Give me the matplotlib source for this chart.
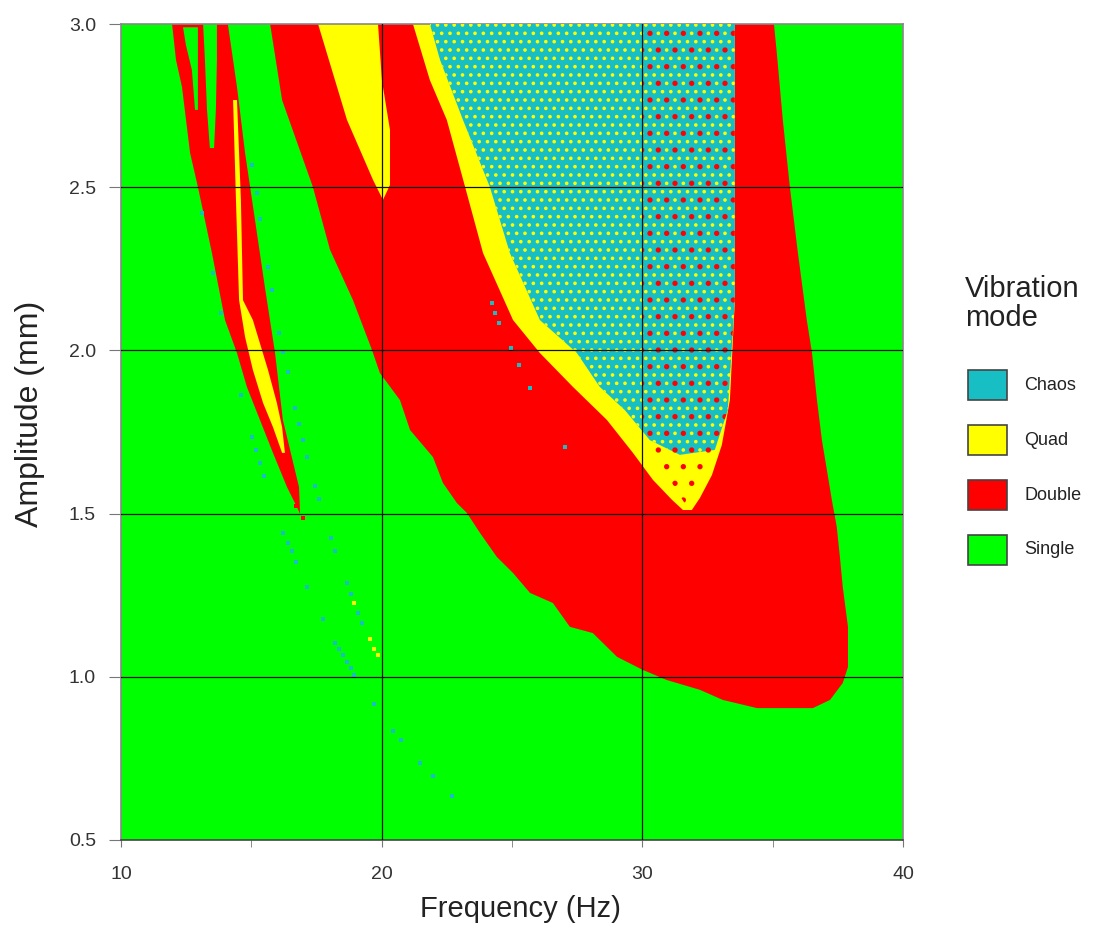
import matplotlib
matplotlib.use("Agg")
import matplotlib.pyplot as plt
from matplotlib.patches import Rectangle

plt.rcParams['font.family'] = ['Liberation Sans', 'DejaVu Sans']
plt.rcParams['hatch.linewidth'] = 1.4

# colours of the vibration modes
SINGLE = '#00ff00'
DOUBLE = '#ff0000'
QUAD = '#ffff00'
CHAOS = '#17bec4'

modes = ['Chaos', 'Quad', 'Double', 'Single']
mode_colors = [CHAOS, QUAD, DOUBLE, SINGLE]

# region outlines: frequency (Hz), amplitude (mm)
# big double-period region
double_f = [15.72, 16.18, 17.36, 18.02, 18.90, 19.63, 19.93, 20.70, 21.09, 21.97,
            22.35, 22.89, 23.27, 23.77, 24.42, 25.04, 25.69, 26.57, 27.22, 28.10,
            29.03, 30.02, 30.94, 32.21, 33.09, 34.40, 36.54, 37.20, 37.69, 37.89,
            37.89, 37.69, 37.58, 37.46, 37.27, 37.08, 36.89, 36.70, 36.51, 36.31,
            35.97, 35.66, 35.39, 35.16, 35.05]
double_a = [3.000, 2.767, 2.501, 2.308, 2.154, 2.001, 1.931, 1.848, 1.756, 1.673,
            1.594, 1.532, 1.502, 1.441, 1.367, 1.318, 1.257, 1.226, 1.153, 1.134,
            1.061, 1.021, 0.990, 0.960, 0.929, 0.904, 0.904, 0.929, 0.981, 1.030,
            1.153, 1.275, 1.367, 1.459, 1.542, 1.634, 1.725, 1.848, 1.992, 2.093,
            2.298, 2.501, 2.706, 2.911, 3.000]

# thin double sliver on the left
sliver_f = [11.96, 12.11, 12.34, 12.65, 12.95, 13.49, 13.99, 14.45, 14.83, 15.33,
            15.83, 16.37, 16.75, 16.87, 16.83, 16.21, 15.91, 15.52, 15.14, 14.76,
            14.45, 14.10]
sliver_a = [3.000, 2.890, 2.807, 2.605, 2.501, 2.298, 2.093, 1.992, 1.888, 1.787,
            1.686, 1.581, 1.520, 1.499, 1.581, 1.787, 1.992, 2.194, 2.400, 2.605,
            2.807, 3.000]

# single-mode gaps inside the sliver
gap_f = [13.15, 13.68, 13.68, 13.64, 13.57, 13.41, 13.30, 13.22]
gap_a = [3.000, 3.000, 2.890, 2.737, 2.620, 2.620, 2.737, 2.890]
hole_f = [12.38, 12.95, 12.95, 12.84, 12.72, 12.49]
hole_a = [2.990, 2.990, 2.737, 2.737, 2.859, 2.936]

# quad streak inside the sliver
streak_f = [14.30, 14.45, 14.60, 14.68, 15.06, 15.64, 15.98, 16.18, 16.29, 16.18,
            15.83, 15.45, 15.06, 14.76, 14.53, 14.41]
streak_a = [2.767, 2.767, 2.461, 2.154, 2.093, 1.940, 1.839, 1.765, 1.686, 1.686,
            1.765, 1.839, 1.940, 2.041, 2.154, 2.461]

# quad wedge near 20 Hz
wedge_f = [17.56, 18.67, 19.67, 20.05, 20.32, 20.32, 20.01, 19.86]
wedge_a = [3.000, 2.706, 2.522, 2.461, 2.507, 2.675, 2.828, 3.000]

# quad band along the chaos region
band_f = [21.20, 21.85, 22.50, 23.20, 23.89, 25.04, 26.07, 27.34, 28.64, 29.64,
          30.41, 31.14, 31.56, 31.90, 32.21, 32.67, 33.05, 33.36, 33.55, 33.55]
band_a = [3.000, 2.828, 2.706, 2.501, 2.298, 2.093, 1.992, 1.888, 1.787, 1.686,
          1.603, 1.542, 1.511, 1.511, 1.548, 1.618, 1.710, 1.848, 2.154, 3.000]

# chaos region
chaos_f = [21.85, 22.24, 23.12, 24.15, 24.92, 26.07, 27.49, 28.37, 29.33, 30.29,
           31.44, 32.78, 33.28, 33.55, 33.55]
chaos_a = [3.000, 2.890, 2.706, 2.501, 2.298, 2.093, 1.992, 1.888, 1.817, 1.725,
           1.680, 1.695, 1.817, 2.154, 3.000]

# mixed (speckled) right edge of the chaos region
mixed_f = [30.02, 33.55, 33.55, 33.28, 32.78, 32.21, 31.64, 30.68, 30.02]
mixed_a = [3.000, 3.000, 2.154, 1.817, 1.695, 1.573, 1.530, 1.650, 1.756]

# isolated chaos / quad / double points
chaos_pt_f = [16.21, 16.41, 16.56, 16.71, 17.13, 17.75, 18.06, 18.21, 18.67, 18.82,
              19.09, 19.24, 18.21, 18.36, 18.52, 18.67, 18.82, 18.94, 19.70, 20.43,
              20.74, 21.47, 21.97, 22.70, 24.23, 24.35, 24.50, 24.96, 25.27, 25.69,
              27.03, 16.98, 17.13, 17.44, 17.59, 13.11, 13.53, 13.84, 15.02, 15.22,
              15.33, 15.64, 15.79, 16.06, 16.21, 16.41, 16.67, 16.83, 14.60, 15.02,
              15.18, 15.33, 15.49]
chaos_pt_a = [1.440, 1.410, 1.385, 1.352, 1.275, 1.177, 1.425, 1.385, 1.287, 1.254,
              1.196, 1.165, 1.104, 1.085, 1.067, 1.045, 1.027, 1.006, 0.917, 0.834,
              0.806, 0.736, 0.696, 0.635, 2.145, 2.115, 2.084, 2.007, 1.955, 1.885,
              1.704, 1.725, 1.673, 1.585, 1.545, 2.421, 2.237, 2.115, 2.568, 2.482,
              2.403, 2.256, 2.185, 2.053, 1.995, 1.934, 1.824, 1.775, 1.863, 1.735,
              1.695, 1.655, 1.615]
quad_pt_f = [18.94, 19.55, 19.70, 19.86]
quad_pt_a = [1.226, 1.116, 1.085, 1.067]
double_pt_f = [16.71, 16.98]
double_pt_a = [1.523, 1.486]

fig = plt.figure(figsize=(10.94, 9.38), dpi=100)
ax = fig.add_axes([0.1106, 0.1045, 0.7148, 0.8699])
ax.set_facecolor(SINGLE)

ax.fill(double_f, double_a, color=DOUBLE, lw=0, zorder=1)
ax.fill(sliver_f, sliver_a, color=DOUBLE, lw=0, zorder=1)
ax.fill(gap_f, gap_a, color=SINGLE, lw=0, zorder=2)
ax.fill(hole_f, hole_a, color=SINGLE, lw=0, zorder=2)
ax.fill(streak_f, streak_a, color=QUAD, lw=0, zorder=2)
ax.fill(wedge_f, wedge_a, color=QUAD, lw=0, zorder=2)
ax.fill(band_f, band_a, color=QUAD, lw=0, zorder=2)
ax.fill(chaos_f, chaos_a, color=CHAOS, lw=0, zorder=3)
# speckle of other modes inside the chaotic area
ax.fill(chaos_f, chaos_a, facecolor='none', edgecolor=QUAD, hatch='..', lw=0, zorder=4)
ax.fill(mixed_f, mixed_a, facecolor='none', edgecolor=DOUBLE, hatch='.', lw=0, zorder=4)

ax.scatter(chaos_pt_f, chaos_pt_a, s=7, marker='s', color=CHAOS, lw=0, zorder=5)
ax.scatter(quad_pt_f, quad_pt_a, s=7, marker='s', color=QUAD, lw=0, zorder=5)
ax.scatter(double_pt_f, double_pt_a, s=7, marker='s', color=DOUBLE, lw=0, zorder=5)

ax.set_xlim(10, 40)
ax.set_ylim(0.5, 3.0)
ax.set_xticks([10, 20, 30, 40])
ax.set_xticks([15, 25, 35], minor=True)
ax.set_yticks([0.5, 1.0, 1.5, 2.0, 2.5, 3.0])
ax.set_yticklabels(['0.5', '1.0', '1.5', '2.0', '2.5', '3.0'])

# grid lines on top of the map
for f in [20, 30]:
    ax.axvline(f, color='#111111', lw=0.9, zorder=6)
for a in [1.0, 1.5, 2.0, 2.5]:
    ax.axhline(a, color='#111111', lw=0.9, zorder=6)

ax.tick_params(axis='both', which='both', direction='out', colors='#777777',
               labelcolor='#333333', labelsize=14)
ax.tick_params(axis='x', which='both', length=5, pad=14)
ax.tick_params(axis='y', which='major', length=9, pad=9)
for s in ax.spines.values():
    s.set_color('#888888')
    s.set_linewidth(1.2)
ax.spines['bottom'].set_color('#444444')

ax.set_xlabel('Frequency (Hz)', fontsize=21, color='#222222')
ax.set_ylabel('Amplitude (mm)', fontsize=23, color='#222222')
ax.xaxis.set_label_coords(0.511, -0.068)
ax.yaxis.set_label_coords(-0.097, 0.522)

# legend drawn by hand to the right of the map
fig.text(965 / 1094, 1 - 275 / 938, 'Vibration\nmode', fontsize=21, color='#222222',
         ha='left', va='top', linespacing=1.05)
for i, (name, col) in enumerate(zip(modes, mode_colors)):
    top = 370 + 55 * i
    fig.add_artist(Rectangle((968 / 1094, 1 - (top + 30) / 938), 39 / 1094, 30 / 938,
                             transform=fig.transFigure, facecolor=col,
                             edgecolor='#444444', lw=1.2))
    fig.text(1024 / 1094, 1 - (top + 15) / 938, name, fontsize=13, color='#222222',
             ha='left', va='center')

fig.savefig('out.png', dpi=100)
